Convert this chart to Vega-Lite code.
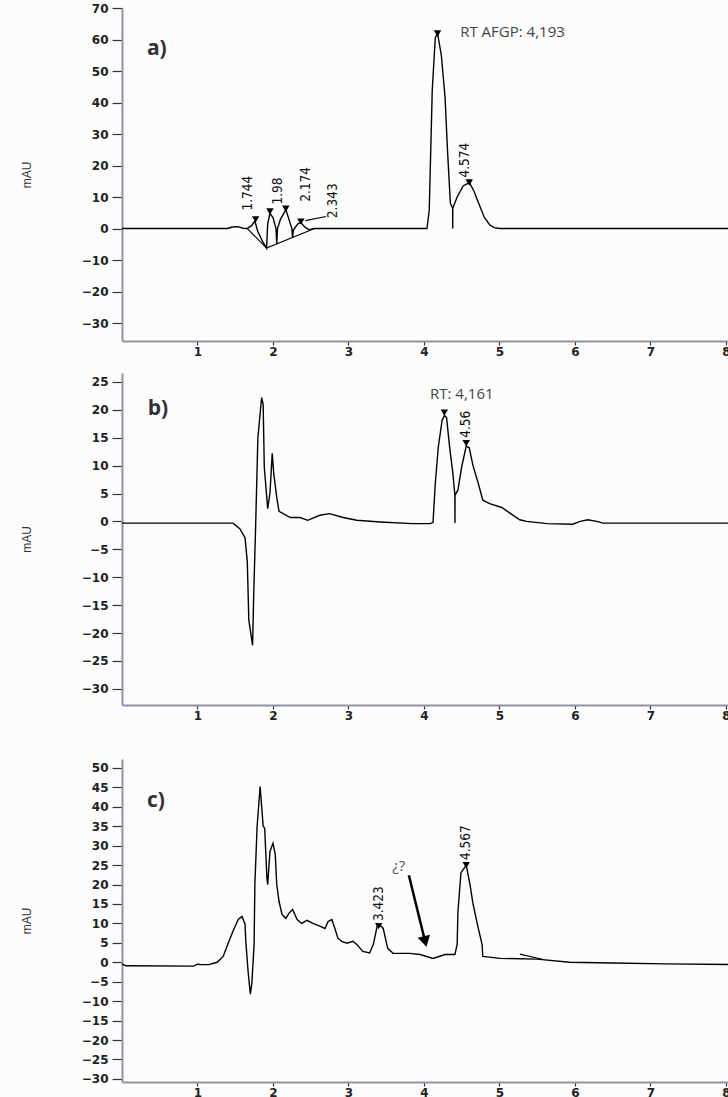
{
  "$schema": "https://vega.github.io/schema/vega-lite/v6.json",
  "background": "#fcfcfc",
  "padding": {"left": 20, "top": 2, "right": 0, "bottom": 0},
  "config": {
    "view": {"stroke": null},
    "axis": {"domainColor": "#8d92a8", "domainWidth": 2, "tickColor": "#333333", "tickWidth": 1.2, "labelFont": "DejaVu Sans", "labelFontWeight": "bold", "labelFontSize": 12, "labelColor": "#222222", "grid": false, "labelFlush": false, "labelOverlap": false, "titleFont": "Liberation Sans", "titleFontWeight": "normal", "titleFontSize": 12, "titleColor": "#333333"},
    "axisX": {"tickSize": 4, "labelPadding": 1},
    "axisY": {"tickSize": 10, "labelPadding": 4, "titlePadding": 48}
  },
  "datasets": {
    "a": [
      {"x":0,"y":0},{"x":1.40,"y":0},{"x":1.45,"y":0.4},{"x":1.50,"y":0.6},{"x":1.55,"y":0.5},{"x":1.60,"y":0.1},{"x":1.66,"y":0},{"x":1.72,"y":1},{"x":1.76,"y":2.4},{"x":1.80,"y":-1},{"x":1.86,"y":-4},{"x":1.915,"y":-6.2},{"x":1.93,"y":1.5},{"x":1.96,"y":4.8},{"x":2.0,"y":3.5},{"x":2.04,"y":0},{"x":2.05,"y":-4.8},{"x":2.06,"y":0},{"x":2.10,"y":3},{"x":2.17,"y":6},{"x":2.21,"y":3},{"x":2.25,"y":0},{"x":2.26,"y":-3},{"x":2.27,"y":-0.5},{"x":2.33,"y":1.5},{"x":2.37,"y":1.9},{"x":2.42,"y":0.5},{"x":2.48,"y":-0.4},{"x":2.55,"y":0},{"x":4.04,"y":0},{"x":4.07,"y":5.7},{"x":4.11,"y":44},{"x":4.15,"y":60.5},{"x":4.18,"y":62},{"x":4.23,"y":55},{"x":4.28,"y":41.6},{"x":4.31,"y":25.7},{"x":4.35,"y":8},{"x":4.38,"y":6.5},{"x":4.381,"y":0},{"x":4.382,"y":6.5},{"x":4.44,"y":10},{"x":4.52,"y":13.5},{"x":4.60,"y":14.6},{"x":4.66,"y":12},{"x":4.71,"y":8.9},{"x":4.80,"y":3.5},{"x":4.87,"y":1.2},{"x":4.93,"y":0.3},{"x":5.01,"y":0},{"x":8.2,"y":0}
    ],
    "a_seg": [
      {"g":"v","x":1.66,"y":0},{"g":"v","x":1.915,"y":-6.2},{"g":"v","x":2.55,"y":0},
      {"g":"l","x":2.43,"y":2.5},{"g":"l","x":2.70,"y":3.8}
    ],
    "a_mk": [
      {"x":1.77,"y":2.9},{"x":1.96,"y":5.4},{"x":2.17,"y":6.3},{"x":2.37,"y":2.2},{"x":4.18,"y":61.9},{"x":4.60,"y":14.6}
    ],
    "a_lab": [
      {"x":1.67,"y":5.7,"t":"1.744"},{"x":2.07,"y":7.6,"t":"1.98"},{"x":2.44,"y":8.5,"t":"2.174"},{"x":2.79,"y":3.3,"t":"2.343"},{"x":4.54,"y":16.2,"t":"4.574"}
    ],
    "a_ann": [{"x":4.48,"y":62.5,"t":"RT AFGP: 4,193"}],
    "a_let": [{"x":0.33,"y":57.1,"t":"a)"}],
    "b": [
      {"x":0,"y":-0.3},{"x":1.47,"y":-0.3},{"x":1.56,"y":-1.3},{"x":1.63,"y":-2.9},{"x":1.66,"y":-7.3},{"x":1.68,"y":-17.7},{"x":1.73,"y":-22.2},{"x":1.745,"y":-13},{"x":1.77,"y":-1},{"x":1.80,"y":15},{"x":1.85,"y":22.2},{"x":1.87,"y":21},{"x":1.885,"y":9.7},{"x":1.93,"y":2.3},{"x":1.96,"y":5},{"x":1.99,"y":12.2},{"x":2.01,"y":8.6},{"x":2.05,"y":4.3},{"x":2.08,"y":1.8},{"x":2.23,"y":0.7},{"x":2.36,"y":0.7},{"x":2.46,"y":0.2},{"x":2.62,"y":1.1},{"x":2.75,"y":1.4},{"x":2.93,"y":0.7},{"x":3.11,"y":0.2},{"x":3.42,"y":-0.1},{"x":3.85,"y":-0.4},{"x":4.08,"y":-0.4},{"x":4.12,"y":-0.2},{"x":4.15,"y":6.8},{"x":4.19,"y":13.3},{"x":4.24,"y":18.1},{"x":4.27,"y":19},{"x":4.30,"y":18.6},{"x":4.34,"y":13.3},{"x":4.38,"y":9},{"x":4.41,"y":4.7},{"x":4.411,"y":-0.3},{"x":4.412,"y":4.7},{"x":4.45,"y":5.6},{"x":4.50,"y":9.8},{"x":4.56,"y":13.5},{"x":4.60,"y":13.2},{"x":4.65,"y":10},{"x":4.72,"y":6.8},{"x":4.78,"y":3.8},{"x":4.87,"y":3.2},{"x":5.03,"y":2.5},{"x":5.14,"y":1.5},{"x":5.27,"y":0.3},{"x":5.36,"y":0},{"x":5.63,"y":-0.4},{"x":5.97,"y":-0.5},{"x":6.07,"y":0},{"x":6.17,"y":0.3},{"x":6.29,"y":0},{"x":6.37,"y":-0.3},{"x":8.2,"y":-0.3}
    ],
    "b_mk": [{"x":4.27,"y":19.5},{"x":4.56,"y":14}],
    "b_lab": [{"x":4.56,"y":15,"t":"4.56"}],
    "b_ann": [{"x":4.08,"y":22.9,"t":"RT: 4,161"}],
    "b_let": [{"x":0.34,"y":20.1,"t":"b)"}],
    "c": [
      {"x":0,"y":-0.4},{"x":0.05,"y":-0.9},{"x":0.95,"y":-1},{"x":1.0,"y":-0.5},{"x":1.05,"y":-0.6},{"x":1.15,"y":-0.6},{"x":1.26,"y":0},{"x":1.34,"y":1.5},{"x":1.40,"y":4.6},{"x":1.47,"y":8},{"x":1.54,"y":11},{"x":1.59,"y":11.8},{"x":1.63,"y":9.8},{"x":1.64,"y":5.4},{"x":1.67,"y":-2.3},{"x":1.70,"y":-8.2},{"x":1.72,"y":-5.4},{"x":1.75,"y":4.6},{"x":1.76,"y":20},{"x":1.79,"y":35},{"x":1.83,"y":45.2},{"x":1.87,"y":35},{"x":1.89,"y":34.5},{"x":1.92,"y":21.6},{"x":1.93,"y":20},{"x":1.96,"y":28.5},{"x":2.00,"y":30.6},{"x":2.03,"y":27.8},{"x":2.05,"y":20},{"x":2.08,"y":15.7},{"x":2.12,"y":12.3},{"x":2.17,"y":11.3},{"x":2.21,"y":12.6},{"x":2.26,"y":13.6},{"x":2.32,"y":11},{"x":2.38,"y":10},{"x":2.45,"y":10.8},{"x":2.53,"y":10},{"x":2.62,"y":9.3},{"x":2.69,"y":8.7},{"x":2.73,"y":10.5},{"x":2.78,"y":11},{"x":2.82,"y":8.7},{"x":2.86,"y":6.2},{"x":2.91,"y":5.4},{"x":2.98,"y":4.9},{"x":3.06,"y":5.4},{"x":3.11,"y":4.6},{"x":3.19,"y":2.8},{"x":3.28,"y":2.4},{"x":3.33,"y":4.6},{"x":3.38,"y":9.3},{"x":3.42,"y":9.5},{"x":3.46,"y":8.7},{"x":3.52,"y":3.6},{"x":3.59,"y":2.3},{"x":3.81,"y":2.3},{"x":3.95,"y":2},{"x":4.12,"y":1},{"x":4.28,"y":2},{"x":4.41,"y":2},{"x":4.44,"y":4.6},{"x":4.45,"y":13},{"x":4.49,"y":23},{"x":4.56,"y":25},{"x":4.61,"y":20},{"x":4.65,"y":15},{"x":4.72,"y":8.7},{"x":4.77,"y":4.6},{"x":4.78,"y":1.5},{"x":5.01,"y":1},{"x":5.50,"y":0.8},{"x":5.93,"y":0},{"x":6.5,"y":-0.2},{"x":7.2,"y":-0.4},{"x":8.2,"y":-0.6}
    ],
    "c_seg": [{"g":"s","x":5.27,"y":2.1},{"g":"s","x":5.58,"y":0.7}],
    "c_mk": [{"x":3.40,"y":9.3},{"x":4.56,"y":25}],
    "c_lab": [{"x":3.40,"y":10.6,"t":"3.423"},{"x":4.56,"y":26.3,"t":"4.567"}],
    "c_ann": [{"x":3.58,"y":24.7,"t":"¿?"}],
    "c_let": [{"x":0.33,"y":41.6,"t":"c)"}],
    "c_arrow": [{"x":3.80,"y":22.4,"x2":4.01,"y2":5.8}],
    "c_head": [{"x":4.01,"y":5.8}]
  },
  "spacing": 16,
  "vconcat": [
    {
      "width": 619, "height": 333,
      "encoding": {
        "x": {"field": "x", "type": "quantitative", "scale": {"domain": [0, 8.2], "nice": false, "zero": false}, "axis": {"values": [1,2,3,4,5,6,7,8], "title": null}},
        "y": {"field": "y", "type": "quantitative", "scale": {"domain": [-35.7, 70], "nice": false, "zero": false}, "axis": {"values": [-30,-20,-10,0,10,20,30,40,50,60,70], "title": "mAU"}}
      },
      "layer": [
        {"data": {"name": "a"}, "mark": {"type": "line", "color": "black", "strokeWidth": 1.4, "clip": true}},
        {"data": {"name": "a_seg"}, "mark": {"type": "line", "color": "black", "strokeWidth": 1.1}, "encoding": {"detail": {"field": "g"}}},
        {"data": {"name": "a_mk"}, "mark": {"type": "point", "shape": "triangle-down", "filled": true, "color": "black", "size": 55, "opacity": 1}},
        {"data": {"name": "a_lab"}, "mark": {"type": "text", "angle": 270, "align": "left", "baseline": "middle", "font": "Liberation Sans Narrow, DejaVu Sans Condensed, sans-serif", "fontSize": 13.5, "color": "#111111"}, "encoding": {"text": {"field": "t"}}},
        {"data": {"name": "a_ann"}, "mark": {"type": "text", "align": "left", "baseline": "middle", "font": "Open Sans", "fontSize": 15, "color": "#444444"}, "encoding": {"text": {"field": "t"}}},
        {"data": {"name": "a_let"}, "mark": {"type": "text", "align": "left", "baseline": "middle", "font": "Open Sans", "fontWeight": "bold", "fontSize": 21, "color": "#333333"}, "encoding": {"text": {"field": "t"}}}
      ]
    },
    {
      "spacing": 38,
      "vconcat": [
        {
          "width": 619, "height": 332,
          "encoding": {
            "x": {"field": "x", "type": "quantitative", "scale": {"domain": [0, 8.2], "nice": false, "zero": false}, "axis": {"values": [1,2,3,4,5,6,7,8], "title": null}},
            "y": {"field": "y", "type": "quantitative", "scale": {"domain": [-32.9, 26.6], "nice": false, "zero": false}, "axis": {"values": [-30,-25,-20,-15,-10,-5,0,5,10,15,20,25], "title": "mAU"}}
          },
          "layer": [
            {"data": {"name": "b"}, "mark": {"type": "line", "color": "black", "strokeWidth": 1.4, "clip": true}},
            {"data": {"name": "b_mk"}, "mark": {"type": "point", "shape": "triangle-down", "filled": true, "color": "black", "size": 55, "opacity": 1}},
            {"data": {"name": "b_lab"}, "mark": {"type": "text", "angle": 270, "align": "left", "baseline": "middle", "font": "Liberation Sans Narrow, DejaVu Sans Condensed, sans-serif", "fontSize": 13.5, "color": "#111111"}, "encoding": {"text": {"field": "t"}}},
            {"data": {"name": "b_ann"}, "mark": {"type": "text", "align": "left", "baseline": "middle", "font": "Open Sans", "fontSize": 15, "color": "#444444"}, "encoding": {"text": {"field": "t"}}},
            {"data": {"name": "b_let"}, "mark": {"type": "text", "align": "left", "baseline": "middle", "font": "Open Sans", "fontWeight": "bold", "fontSize": 21, "color": "#333333"}, "encoding": {"text": {"field": "t"}}}
          ]
        },
        {
          "width": 619, "height": 323,
          "encoding": {
            "x": {"field": "x", "type": "quantitative", "scale": {"domain": [0, 8.2], "nice": false, "zero": false}, "axis": {"values": [1,2,3,4,5,6,7,8], "title": null}},
            "y": {"field": "y", "type": "quantitative", "scale": {"domain": [-30.8, 52.3], "nice": false, "zero": false}, "axis": {"values": [-30,-25,-20,-15,-10,-5,0,5,10,15,20,25,30,35,40,45,50], "title": "mAU"}}
          },
          "layer": [
            {"data": {"name": "c"}, "mark": {"type": "line", "color": "black", "strokeWidth": 1.4, "clip": true}},
            {"data": {"name": "c_seg"}, "mark": {"type": "line", "color": "black", "strokeWidth": 1.1}, "encoding": {"detail": {"field": "g"}}},
            {"data": {"name": "c_mk"}, "mark": {"type": "point", "shape": "triangle-down", "filled": true, "color": "black", "size": 55, "opacity": 1}},
            {"data": {"name": "c_lab"}, "mark": {"type": "text", "angle": 270, "align": "left", "baseline": "middle", "font": "Liberation Sans Narrow, DejaVu Sans Condensed, sans-serif", "fontSize": 13.5, "color": "#111111"}, "encoding": {"text": {"field": "t"}}},
            {"data": {"name": "c_ann"}, "mark": {"type": "text", "align": "left", "baseline": "middle", "font": "Open Sans", "fontSize": 15, "color": "#555555"}, "encoding": {"text": {"field": "t"}}},
            {"data": {"name": "c_let"}, "mark": {"type": "text", "align": "left", "baseline": "middle", "font": "Open Sans", "fontWeight": "bold", "fontSize": 21, "color": "#333333"}, "encoding": {"text": {"field": "t"}}},
            {"data": {"name": "c_arrow"}, "mark": {"type": "rule", "color": "black", "strokeWidth": 2.5}, "encoding": {"x2": {"field": "x2"}, "y2": {"field": "y2"}}},
            {"data": {"name": "c_head"}, "mark": {"type": "point", "shape": "triangle", "filled": true, "color": "black", "size": 160, "angle": 166, "opacity": 1}}
          ]
        }
      ]
    }
  ]
}
